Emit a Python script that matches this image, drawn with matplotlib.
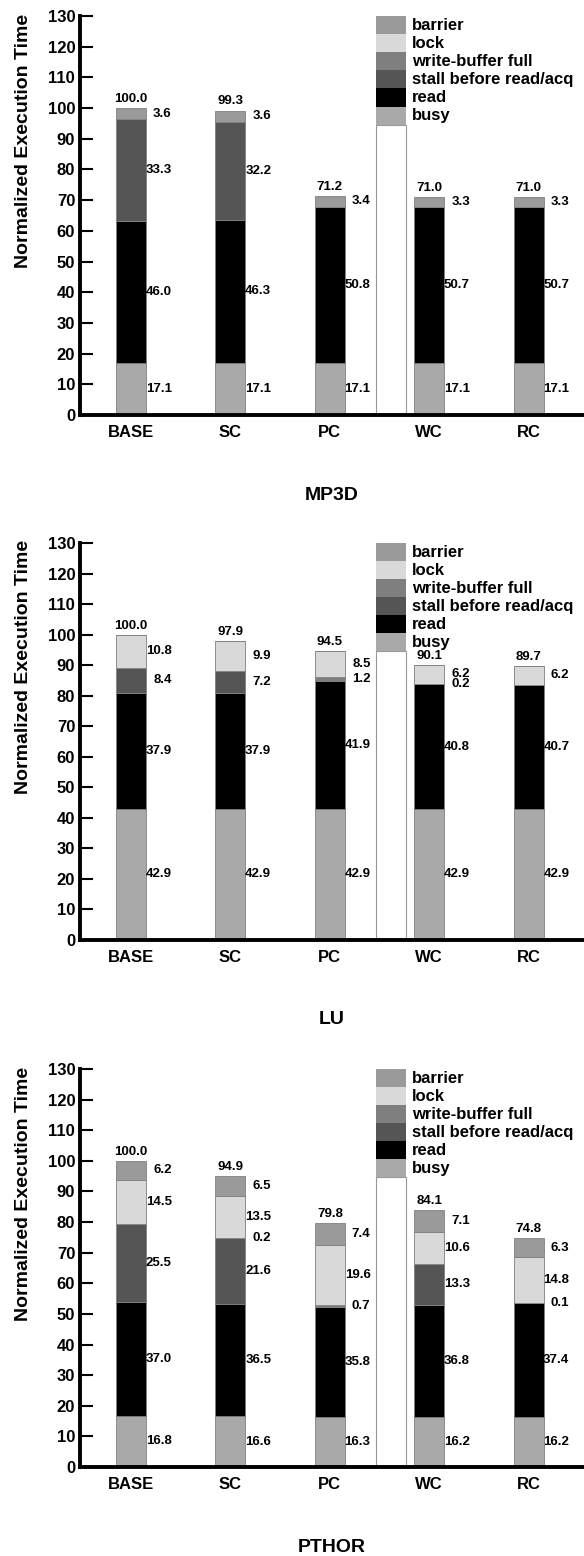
import numpy as np
import matplotlib
matplotlib.use("Agg")
import matplotlib.pyplot as plt
from matplotlib.patches import Rectangle

plt.rcParams['font.family'] = ['Liberation Sans', 'DejaVu Sans']
plt.rcParams['font.weight'] = 'bold'

# Data
configs = ["BASE", "SC", "PC", "WC", "RC"]
components = ["busy", "read", "stall before read/acq", "write-buffer full", "lock", "barrier"]
comp_colors = ["#a9a9a9", "#000000", "#555555", "#7f7f7f", "#d9d9d9", "#9a9a9a"]

mp3d_busy = [17.1, 17.1, 17.1, 17.1, 17.1]
mp3d_read = [46.0, 46.3, 50.8, 50.7, 50.7]
mp3d_stall = [33.3, 32.2, 0.0, 0.0, 0.0]
mp3d_wbuf = [0.0, 0.0, 0.0, 0.0, 0.0]
mp3d_lock = [0.0, 0.0, 0.0, 0.0, 0.0]
mp3d_barrier = [3.6, 3.6, 3.4, 3.3, 3.3]
mp3d_total = [100.0, 99.3, 71.2, 71.0, 71.0]

lu_busy = [42.9, 42.9, 42.9, 42.9, 42.9]
lu_read = [37.9, 37.9, 41.9, 40.8, 40.7]
lu_stall = [8.4, 7.2, 0.0, 0.0, 0.0]
lu_wbuf = [0.0, 0.0, 1.2, 0.2, 0.0]
lu_lock = [10.8, 9.9, 8.5, 6.2, 6.2]
lu_barrier = [0.0, 0.0, 0.0, 0.0, 0.0]
lu_total = [100.0, 97.9, 94.5, 90.1, 89.7]

pthor_busy = [16.8, 16.6, 16.3, 16.2, 16.2]
pthor_read = [37.0, 36.5, 35.8, 36.8, 37.4]
pthor_stall = [25.5, 21.6, 0.0, 13.3, 0.0]
pthor_wbuf = [0.0, 0.2, 0.7, 0.0, 0.1]
pthor_lock = [14.5, 13.5, 19.6, 10.6, 14.8]
pthor_barrier = [6.2, 6.5, 7.4, 7.1, 6.3]
pthor_total = [100.0, 94.9, 79.8, 84.1, 74.8]

benchmarks = [
    ("MP3D", [mp3d_busy, mp3d_read, mp3d_stall, mp3d_wbuf, mp3d_lock, mp3d_barrier], mp3d_total),
    ("LU", [lu_busy, lu_read, lu_stall, lu_wbuf, lu_lock, lu_barrier], lu_total),
    ("PTHOR", [pthor_busy, pthor_read, pthor_stall, pthor_wbuf, pthor_lock, pthor_barrier], pthor_total),
]

W, H = 584, 1556
fig = plt.figure(figsize=(W / 100, H / 100), dpi=100)

# panel placement in pixels: (top of 130, bottom at 0)
panels_px = [(16, 415), (543, 940), (1069, 1467)]
left_px = 80

x = np.arange(len(configs))
bar_w = 0.30
leg_x = 2.615

for (name, segs, totals), (top_px, bot_px) in zip(benchmarks, panels_px):
    ax = fig.add_axes([left_px / W, 1 - bot_px / H, (W - left_px) / W, (bot_px - top_px) / H])
    bottom = np.zeros(len(configs))
    for vals, color in zip(segs, comp_colors):
        vals = np.array(vals)
        ax.bar(x, vals, bar_w, bottom=bottom, color=color, edgecolor="#808080", linewidth=0.6)
        for xi, b, v in zip(x, bottom, vals):
            if v > 0:
                ax.text(xi + 0.41, b + v / 2, f"{v:.1f}", ha="right", va="center", fontsize=9.5)
        bottom += vals
    for xi, t, b in zip(x, totals, bottom):
        ax.text(xi, b + 1.0, f"{t:.1f}", ha="center", va="bottom", fontsize=9.5)

    # legend drawn as a stacked column
    step = 5.9
    ax.add_patch(Rectangle((leg_x - bar_w / 2, 0), bar_w, 130 - 6 * step,
                           facecolor="white", edgecolor="#999999", linewidth=0.8))
    for i, (lab, color) in enumerate(zip(components[::-1], comp_colors[::-1])):
        y0 = 130 - (i + 1) * step
        ax.add_patch(Rectangle((leg_x - bar_w / 2, y0), bar_w, step,
                               facecolor=color, edgecolor="none"))
        ax.text(leg_x + bar_w / 2 + 0.06, y0 + step / 2, lab, ha="left", va="center", fontsize=12)

    ax.set_xlim(-0.513, 4.557)
    ax.set_ylim(0, 130)
    ax.set_yticks(np.arange(0, 131, 10))
    ax.set_xticks(x)
    ax.set_xticklabels(configs, fontsize=12, fontweight="bold")
    ax.tick_params(axis="y", direction="in", length=9.5, width=1.5, pad=3.5, labelsize=12)
    ax.tick_params(axis="x", length=0, pad=7)
    for s in ("top", "right"):
        ax.spines[s].set_visible(False)
    ax.spines["left"].set_linewidth(2.8)
    ax.spines["bottom"].set_linewidth(2.8)
    for lab in ax.get_yticklabels():
        lab.set_fontweight("bold")

    axw = W - left_px
    ax.text(-56 / axw, 0.687, "Normalized Execution Time", transform=ax.transAxes,
            rotation=90, ha="center", va="center", fontsize=14)
    ax.text((332 - left_px) / axw, -80 / (bot_px - top_px), name, transform=ax.transAxes,
            ha="center", va="center", fontsize=14)

fig.savefig("out.png", dpi=100)
